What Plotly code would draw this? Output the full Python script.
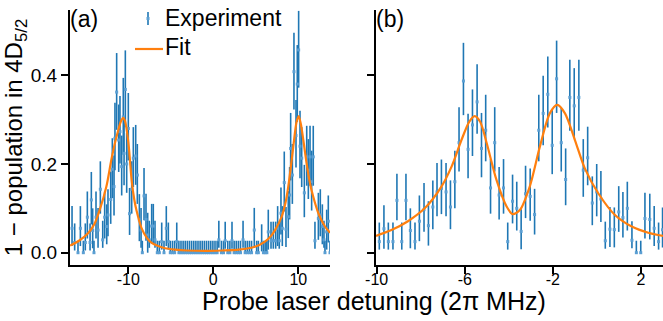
import plotly.graph_objects as go

# ---------------- data: panel (a) ----------------
a_x = [-16.62, -16.31, -15.92, -15.64, -15.29, -15.06, -14.82, -14.50, -14.35, -14.19,
       -14.04, -13.80, -13.56, -13.29, -13.01, -12.78, -12.54, -12.39, -12.07, -11.88,
       -11.68, -11.57, -11.37, -11.13, -10.98, -10.78, -10.59, -10.50, -10.35, -10.19,
       -10.00, -9.85, -9.60, -9.41, -9.13, -8.94, -8.70, -8.50, -8.35, -8.15,
       -7.92, -7.72, -7.53, -7.25, -7.06, -6.86, -6.59, -6.35, -6.07, -5.80,
       -5.53, -5.29, -5.06, -4.80, -4.55, -4.30, -4.05, -3.80, -3.55, -3.30,
       -3.05, -2.80, -2.55, -2.30, -2.05, -1.80, -1.55, -1.30, -1.05, -0.80,
       -0.55, -0.30, -0.05, 0.20, 0.45, 0.65, 0.95, 1.20, 1.40, 1.70,
       1.95, 2.20, 2.45, 2.70, 2.95, 3.20, 3.50, 3.75, 4.00, 4.25,
       4.50, 4.82, 5.10, 5.30, 5.69, 5.90, 6.10, 6.30, 6.47, 6.79,
       7.06, 7.34, 7.57, 7.76, 7.96, 8.12, 8.35, 8.55, 8.82, 8.98,
       9.10, 9.30, 9.49, 9.73, 9.88, 10.04, 10.20, 10.40, 10.71, 10.99,
       11.18, 11.38, 11.57, 11.76, 11.96, 12.36, 12.59, 12.83, 13.02, 13.14,
       13.34, 13.53, 13.73]
a_y = [0.055, 0.023, 0, 0.055, 0, 0.023, 0.080, 0.023, 0.119, 0.050,
       0, 0.080, 0.051, 0.143, 0.029, 0.080, 0.059, 0.085, 0.120, 0.188,
       0.149, 0.258, 0.362, 0.254, 0.273, 0.194, 0.306, 0.224, 0.368, 0.200,
       0.280, 0.088, 0.143, 0.213, 0.218, 0.175, 0.074, 0.051, 0, 0.128,
       0.075, 0.040, 0.029, 0.060, 0.060, 0.029, 0, 0, 0.025, 0,
       0.055, 0.025, 0, 0, 0, 0.025, 0, 0, 0, 0,
       0, 0, 0, 0, 0, 0, 0, 0, 0, 0,
       0, 0, 0, 0, 0, 0.029, 0, 0, 0.027, 0,
       0, 0.027, 0, 0, 0, 0, 0.029, 0, 0, 0,
       0, 0.051, 0, 0, 0.021, 0, 0, 0, 0.047, 0.027,
       0.027, 0.027, 0.055, 0.027, 0.089, 0.055, 0.158, 0.053, 0.081, 0.130,
       0.235, 0.175, 0.408, 0.264, 0.380, 0.457, 0.240, 0.213, 0.135, 0.216,
       0.186, 0.216, 0.160, 0.216, 0.027, 0.077, 0.085, 0.059, 0.029, 0,
       0.047, 0.071, 0]
a_err_plus = [0.05, 0.043, 0.027, 0.05, 0.027, 0.043, 0.058, 0.043, 0.063, 0.05,
              0.027, 0.058, 0.05, 0.063, 0.043, 0.058, 0.05, 0.058, 0.063, 0.07,
              0.07, 0.08, 0.088, 0.08, 0.08, 0.07, 0.088, 0.08, 0.088, 0.07,
              0.08, 0.058, 0.063, 0.07, 0.07, 0.07, 0.058, 0.05, 0.027, 0.063,
              0.058, 0.05, 0.043, 0.05, 0.05, 0.043, 0.027, 0.027, 0.043, 0.027,
              0.05, 0.043, 0.027, 0.027, 0.027, 0.043, 0.027, 0.027, 0.027, 0.027,
              0.027, 0.027, 0.027, 0.027, 0.027, 0.027, 0.027, 0.027, 0.027, 0.027,
              0.027, 0.027, 0.027, 0.027, 0.027, 0.043, 0.027, 0.027, 0.043, 0.027,
              0.027, 0.043, 0.027, 0.027, 0.027, 0.027, 0.043, 0.027, 0.027, 0.027,
              0.027, 0.05, 0.027, 0.027, 0.043, 0.027, 0.027, 0.027, 0.05, 0.043,
              0.043, 0.043, 0.05, 0.043, 0.058, 0.05, 0.07, 0.05, 0.058, 0.063,
              0.08, 0.07, 0.088, 0.08, 0.088, 0.088, 0.08, 0.07, 0.063, 0.07,
              0.07, 0.07, 0.07, 0.07, 0.043, 0.058, 0.058, 0.05, 0.043, 0.027,
              0.05, 0.058, 0.027]
a_err_minus = [0.04, 0.018, 0, 0.04, 0, 0.018, 0.048, 0.018, 0.055, 0.04,
               0, 0.048, 0.04, 0.055, 0.018, 0.048, 0.04, 0.048, 0.055, 0.065,
               0.065, 0.072, 0.085, 0.072, 0.072, 0.065, 0.085, 0.072, 0.085, 0.065,
               0.072, 0.048, 0.055, 0.065, 0.065, 0.065, 0.048, 0.04, 0, 0.055,
               0.048, 0.04, 0.018, 0.04, 0.04, 0.018, 0, 0, 0.018, 0,
               0.04, 0.018, 0, 0, 0, 0.018, 0, 0, 0, 0,
               0, 0, 0, 0, 0, 0, 0, 0, 0, 0,
               0, 0, 0, 0, 0, 0.018, 0, 0, 0.018, 0,
               0, 0.018, 0, 0, 0, 0, 0.018, 0, 0, 0,
               0, 0.04, 0, 0, 0.018, 0, 0, 0, 0.04, 0.018,
               0.018, 0.018, 0.04, 0.018, 0.048, 0.04, 0.065, 0.04, 0.048, 0.055,
               0.072, 0.065, 0.085, 0.072, 0.085, 0.085, 0.072, 0.065, 0.055, 0.065,
               0.065, 0.065, 0.065, 0.065, 0.018, 0.048, 0.048, 0.04, 0.018, 0,
               0.04, 0.048, 0]
fit_a_x = [-16.86, -15.8, -14.74, -14.0, -13.37, -12.58, -12.0, -11.6, -11.2, -10.85,
           -10.6, -10.39, -10.0, -9.6, -9.3, -9.02, -8.43, -7.8, -7.25, -6.5,
           -5.68, -4.5, -3.1, -1.0, 1.0, 3.0, 4.9, 6.08, 6.8, 7.26,
           8.04, 8.5, 8.82, 9.1, 9.41, 9.8, 10.05, 10.3, 10.59, 10.99,
           11.38, 11.76, 12.36, 13.14, 13.73]
fit_a_y = [0.016, 0.027, 0.044, 0.064, 0.096, 0.149, 0.209, 0.245, 0.275, 0.297,
           0.304, 0.297, 0.25, 0.162, 0.12, 0.094, 0.055, 0.033, 0.022, 0.015,
           0.010, 0.007, 0.005, 0.004, 0.005, 0.007, 0.0135, 0.025, 0.038, 0.051,
           0.081, 0.113, 0.149, 0.19, 0.239, 0.295, 0.308, 0.29, 0.254, 0.2,
           0.156, 0.126, 0.089, 0.059, 0.045]

# ---------------- data: panel (b) ----------------
b_x = [-9.88, -9.67, -9.47, -9.26, -9.08, -8.86, -8.67, -8.47, -8.26, -8.06,
       -7.85, -7.65, -7.45, -7.26, -7.06, -6.85, -6.65, -6.45, -6.26, -6.06,
       -5.85, -5.65, -5.44, -5.24, -5.05, -4.83, -4.64, -4.44, -4.24, -4.05,
       -3.83, -3.64, -3.44, -3.24, -3.03, -2.83, -2.64, -2.44, -2.23, -2.03,
       -1.83, -1.62, -1.42, -1.23, -1.03, -0.82, -0.62, -0.42, -0.21, -0.01,
       0.18, 0.38, 0.59, 0.79, 0.99, 1.18, 1.38, 1.59, 1.79, 1.99,
       2.18, 2.40, 2.60, 2.80, 2.98]
b_y = [0.025, 0.054, 0.025, 0.025, 0.118, 0.025, 0.118, 0.050, 0.025, 0.071,
       0.097, 0.061, 0.103, 0.137, 0.145, 0.137, 0.103, 0.160, 0.248, 0.387,
       0.233, 0.288, 0.340, 0.235, 0.276, 0.146, 0.248, 0.130, 0.146, 0.025,
       0.116, 0.100, 0.048, 0.133, 0.127, 0.086, 0.276, 0.314, 0.357, 0.242,
       0.392, 0.248, 0.165, 0.350, 0.331, 0.350, 0.186, 0.214, 0.112, 0.137,
       0.121, 0.027, 0.053, 0.052, 0.092, 0.079, 0.100, 0.028, 0, 0,
       0.077, 0.075, 0.055, 0.025, 0.052]
b_err_plus = [0.043, 0.053, 0.043, 0.043, 0.06, 0.043, 0.06, 0.05, 0.043, 0.058,
              0.06, 0.055, 0.06, 0.065, 0.065, 0.065, 0.06, 0.07, 0.08, 0.086,
              0.08, 0.08, 0.085, 0.08, 0.08, 0.065, 0.08, 0.063, 0.065, 0.043,
              0.06, 0.06, 0.05, 0.063, 0.063, 0.058, 0.08, 0.085, 0.085, 0.08,
              0.086, 0.08, 0.07, 0.085, 0.085, 0.085, 0.07, 0.07, 0.06, 0.063,
              0.063, 0.043, 0.05, 0.05, 0.058, 0.058, 0.06, 0.043, 0.027, 0.027,
              0.058, 0.058, 0.05, 0.043, 0.05]
b_err_minus = [0.018, 0.045, 0.018, 0.018, 0.045, 0.018, 0.045, 0.04, 0.018, 0.045,
               0.05, 0.045, 0.05, 0.055, 0.058, 0.055, 0.05, 0.06, 0.065, 0.077,
               0.065, 0.07, 0.072, 0.065, 0.07, 0.058, 0.065, 0.055, 0.058, 0.018,
               0.05, 0.05, 0.04, 0.055, 0.055, 0.045, 0.07, 0.072, 0.075, 0.065,
               0.077, 0.065, 0.058, 0.075, 0.072, 0.075, 0.06, 0.062, 0.05, 0.055,
               0.052, 0.018, 0.04, 0.04, 0.045, 0.045, 0.05, 0.018, 0, 0,
               0.045, 0.045, 0.04, 0.018, 0.04]
fit_b_x = [-10.03, -9.33, -8.58, -7.82, -7.06, -6.6, -6.15, -5.8, -5.55, -5.3,
           -5.0, -4.56, -4.1, -3.83, -3.5, -3.05, -2.59, -2.14, -1.8, -1.45,
           -1.0, -0.55, 0.06, 0.82, 1.58, 2.33, 3.0]
fit_b_y = [0.038, 0.051, 0.071, 0.1, 0.149, 0.194, 0.254, 0.295, 0.308, 0.295,
           0.246, 0.164, 0.104, 0.087, 0.096, 0.149, 0.239, 0.314, 0.333, 0.314,
           0.254, 0.19, 0.134, 0.085, 0.059, 0.045, 0.038]

# ---------------- ticks / labels ----------------
a_xtick_vals = [-10, 0, 10]
a_xtick_text = ["-10", "0", "10"]
a_xminor_vals = [-15, -5, 5]
b_xtick_vals = [-10, -6, -2, 2]
b_xtick_text = ["-10", "-6", "-2", "2"]
b_xminor_vals = [-8, -4, 0]
ytick_vals = [0.0, 0.2, 0.4]
ytick_text = ["0.0", "0.2", "0.4"]
yminor_vals = [0.1, 0.3, 0.5]
series_names = ["Experiment", "Fit"]
panel_labels = ["(a)", "(b)"]
x_title = "Probe laser detuning (2\u03c0 MHz)"
y_title = "1 \u2212 population in 4D<sub>5/2</sub>"

FONT = "Liberation Sans, Arial, sans-serif"
BLUE = "#1f77b4"
DOT = "#5b9fd3"
ORANGE = "#ff7f0e"

W, H = 663, 321
MT, MB = 10, 56
PH = H - MT - MB
YR = [-0.0277, 0.547]
XRA = [-16.86, 13.73]
XRB = [-10.03, 3.0]
A_LEFT, A_RIGHT, B_LEFT = 70, 330, 376
DOM_A = [A_LEFT / W, A_RIGHT / W]
DOM_B = [B_LEFT / W, 1.0]


# pixel -> axis-value helpers (used only to place text and the key)
def ax_x(px):
    return XRA[0] + (px - A_LEFT) * (XRA[1] - XRA[0]) / (A_RIGHT - A_LEFT)


def py_y(py):
    return YR[1] - (py - MT) * (YR[1] - YR[0]) / PH


fig = go.Figure()


def data_trace(x, y, ep, em, xa, ya):
    return go.Scatter(
        x=x, y=y, mode="markers", name=series_names[0], showlegend=False,
        xaxis=xa, yaxis=ya,
        marker=dict(symbol="square", size=3, color=DOT, line=dict(width=0)),
        error_y=dict(type="data", symmetric=False, array=ep, arrayminus=em,
                     color=BLUE, thickness=1.6, width=0),
    )


fig.add_trace(data_trace(a_x, a_y, a_err_plus, a_err_minus, "x", "y"))
fig.add_trace(go.Scatter(x=fit_a_x, y=fit_a_y, mode="lines", name=series_names[1],
                         showlegend=False,
                         line=dict(color=ORANGE, width=2.2, shape="spline", smoothing=0.8),
                         xaxis="x", yaxis="y"))
fig.add_trace(data_trace(b_x, b_y, b_err_plus, b_err_minus, "x2", "y2"))
fig.add_trace(go.Scatter(x=fit_b_x, y=fit_b_y, mode="lines", name=series_names[1],
                         showlegend=False,
                         line=dict(color=ORANGE, width=2.2, shape="spline", smoothing=0.8),
                         xaxis="x2", yaxis="y2"))

TXT = dict(family=FONT, size=23, color="black")

# ---- key (legend) drawn inside panel (a) ----
key_err = (py_y(12) - py_y(25)) / 2
fig.add_trace(go.Scatter(x=[ax_x(148)], y=[py_y(18.5)], mode="markers",
                         showlegend=False, hoverinfo="skip",
                         marker=dict(symbol="square", size=3, color=DOT),
                         error_y=dict(type="constant", value=key_err, color=BLUE,
                                      thickness=1.6, width=0),
                         xaxis="x", yaxis="y"))
fig.add_trace(go.Scatter(x=[ax_x(135), ax_x(163)], y=[py_y(49), py_y(49)], mode="lines",
                         showlegend=False, hoverinfo="skip",
                         line=dict(color=ORANGE, width=2.2), xaxis="x", yaxis="y"))
fig.add_trace(go.Scatter(x=[ax_x(165), ax_x(165)], y=[py_y(20), py_y(49)], mode="text",
                         text=series_names, textposition="middle right", textfont=TXT,
                         showlegend=False, hoverinfo="skip", cliponaxis=False,
                         xaxis="x", yaxis="y"))

# ---- panel labels ----
fig.add_trace(go.Scatter(x=[XRA[0]], y=[YR[1]], mode="text", text=[panel_labels[0]],
                         textposition="bottom right", textfont=TXT, cliponaxis=False,
                         showlegend=False, hoverinfo="skip", xaxis="x", yaxis="y"))
fig.add_trace(go.Scatter(x=[XRB[0]], y=[YR[1]], mode="text", text=[panel_labels[1]],
                         textposition="bottom right", textfont=TXT, cliponaxis=False,
                         showlegend=False, hoverinfo="skip", xaxis="x2", yaxis="y2"))

# ---- shared x-axis title: anchored at a point inside panel (a), drawn one
#      line below it (leading <br>) so it sits under the tick labels ----
fig.add_trace(go.Scatter(x=[ax_x(202)], y=[py_y(259)], mode="text",
                         text=["<br>" + x_title], textposition="bottom right",
                         textfont=dict(family=FONT, size=25, color="black"),
                         cliponaxis=False, showlegend=False, hoverinfo="skip",
                         xaxis="x", yaxis="y"))

major = dict(showline=True, linewidth=2, linecolor="black", showgrid=False,
             zeroline=False, ticks="outside", ticklen=7, tickwidth=1.5,
             tickcolor="black", tickmode="array")
minor = dict(showline=False, showgrid=False, zeroline=False, ticks="outside",
             ticklen=4, tickwidth=1.5, tickcolor="black", tickmode="array",
             showticklabels=False)
XTF = dict(family=FONT, size=16, color="black")
YTF = dict(family=FONT, size=19, color="black")

fig.update_layout(
    width=W, height=H, showlegend=False,
    margin=dict(l=0, r=0, t=MT, b=MB, autoexpand=False),
    paper_bgcolor="white", plot_bgcolor="white",
    xaxis=dict(domain=DOM_A, range=XRA, anchor="y", tickvals=a_xtick_vals,
               ticktext=a_xtick_text, tickfont=XTF, ticklabelstandoff=-8, **major),
    yaxis=dict(domain=[0, 1], range=YR, anchor="x", tickvals=ytick_vals,
               ticktext=ytick_text, tickfont=YTF,
               title=dict(text=y_title, standoff=4,
                          font=dict(family=FONT, size=24, color="black")),
               **major),
    xaxis2=dict(domain=DOM_B, range=XRB, anchor="y2", tickvals=b_xtick_vals,
                ticktext=b_xtick_text, tickfont=XTF, ticklabelstandoff=-8, **major),
    yaxis2=dict(domain=[0, 1], range=YR, anchor="x2", tickvals=ytick_vals,
                ticktext=ytick_text, showticklabels=False, **major),
    xaxis3=dict(domain=DOM_A, range=XRA, anchor="y", overlaying="x",
                tickvals=a_xminor_vals, **minor),
    yaxis3=dict(domain=[0, 1], range=YR, anchor="x", overlaying="y",
                tickvals=yminor_vals, **minor),
    xaxis4=dict(domain=DOM_B, range=XRB, anchor="y2", overlaying="x2",
                tickvals=b_xminor_vals, **minor),
    yaxis4=dict(domain=[0, 1], range=YR, anchor="x2", overlaying="y2",
                tickvals=yminor_vals, **minor),
)

fig.write_html("out.html")
